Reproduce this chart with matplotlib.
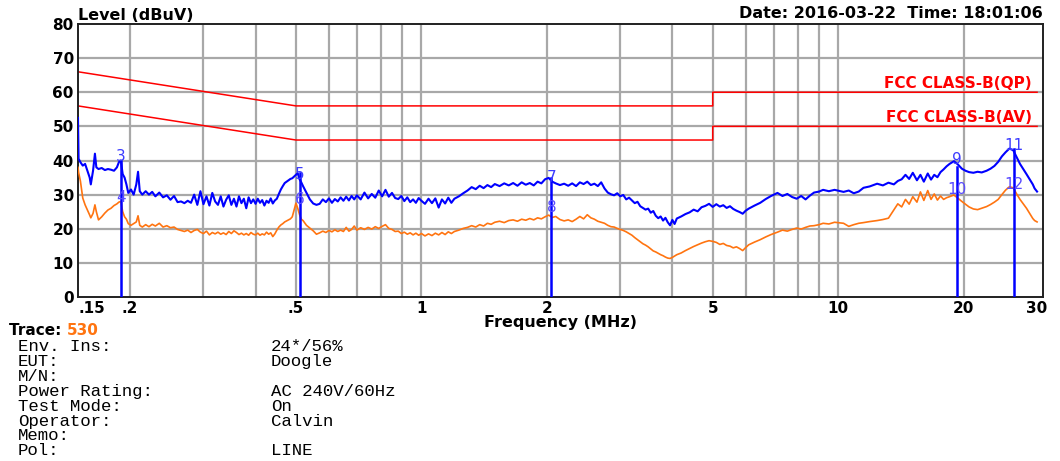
import matplotlib
matplotlib.use('Agg')
import matplotlib.pyplot as plt

# Conducted emission scan (MHz / dBuV)
freq = [0.150, 0.1505, 0.152, 0.154, 0.156, 0.158, 0.160, 0.161, 0.163, 0.1647,
        0.166, 0.168, 0.171, 0.174, 0.177, 0.180, 0.183, 0.186, 0.188, 0.190,
        0.192, 0.194, 0.196, 0.198, 0.201, 0.204, 0.207, 0.209, 0.211, 0.214,
        0.218, 0.222, 0.226, 0.230, 0.235, 0.240, 0.245, 0.250, 0.255, 0.260,
        0.265, 0.270, 0.275, 0.280, 0.285, 0.290, 0.295, 0.300, 0.305, 0.310,
        0.315, 0.320, 0.325, 0.330, 0.335, 0.340, 0.345, 0.350, 0.355, 0.360,
        0.365, 0.370, 0.375, 0.380, 0.385, 0.390, 0.395, 0.400, 0.405, 0.410,
        0.415, 0.420, 0.425, 0.430, 0.435, 0.440, 0.445, 0.450, 0.455, 0.460,
        0.465, 0.470, 0.475, 0.480, 0.485, 0.490, 0.495, 0.500, 0.505, 0.510,
        0.515, 0.520, 0.530, 0.540, 0.550, 0.560, 0.570, 0.580, 0.590, 0.600,
        0.610, 0.620, 0.630, 0.640, 0.650, 0.660, 0.670, 0.680, 0.690, 0.700,
        0.715, 0.730, 0.745, 0.760, 0.775, 0.790, 0.805, 0.820, 0.835, 0.850,
        0.865, 0.880, 0.895, 0.910, 0.925, 0.940, 0.955, 0.970, 0.985, 1.000,
        1.02, 1.04, 1.06, 1.08, 1.10, 1.12, 1.14, 1.16, 1.18, 1.20,
        1.23, 1.26, 1.29, 1.32, 1.35, 1.38, 1.41, 1.44, 1.47, 1.50,
        1.54, 1.58, 1.62, 1.66, 1.70, 1.74, 1.78, 1.82, 1.86, 1.90,
        1.94, 1.98, 2.02, 2.06, 2.10, 2.15, 2.20, 2.25, 2.30, 2.35,
        2.40, 2.45, 2.50, 2.55, 2.60, 2.65, 2.70, 2.75, 2.80, 2.85,
        2.90, 2.95, 3.00, 3.05, 3.10, 3.15, 3.20, 3.25, 3.30, 3.35,
        3.40, 3.45, 3.50, 3.55, 3.60, 3.65, 3.70, 3.75, 3.80, 3.85,
        3.90, 3.95, 4.00, 4.05, 4.10, 4.20, 4.30, 4.40, 4.50, 4.60,
        4.70, 4.80, 4.90, 5.00, 5.10, 5.20, 5.30, 5.40, 5.50, 5.60,
        5.70, 5.80, 5.90, 6.00, 6.10, 6.30, 6.50, 6.70, 6.90, 7.15,
        7.35, 7.55, 7.75, 7.95, 8.15, 8.35, 8.55, 8.75, 9.00, 9.20,
        9.50, 9.80, 10.3, 10.6, 10.9, 11.2, 11.5, 11.9, 12.4, 12.8,
        13.2, 13.6, 13.9, 14.2, 14.5, 14.8, 15.1, 15.45, 15.75, 16.05,
        16.4, 16.7, 17.0, 17.3, 17.6, 17.9, 18.2, 18.5, 18.95, 19.35,
        19.8, 20.2, 20.6, 21.1, 21.6, 22.1, 22.7, 23.2, 23.7, 24.2,
        24.7, 25.2, 25.75, 26.3, 26.8, 27.3, 27.8, 28.3, 28.8, 29.3,
        29.6, 30.0]

qp_level = [52.5, 40.5, 39.5, 38.5, 39.0, 37.0, 35.0, 33.0, 37.0, 42.0,
            38.0, 37.5, 37.8, 37.2, 37.5, 37.3, 37.0, 38.0, 39.5, 40.0,
            36.0, 35.0, 33.0, 30.5, 31.5, 30.0, 33.0, 36.7, 31.0, 30.0,
            31.0, 30.0, 30.8, 29.5, 30.6, 29.2, 29.8, 28.5, 29.6, 27.8,
            28.0, 27.5, 28.2, 27.6, 30.0, 27.0, 31.0, 27.2, 29.5, 26.8,
            30.5, 28.0, 27.0, 29.5, 26.5, 28.5, 29.8, 27.0, 28.8, 26.5,
            29.5, 27.5, 28.8, 26.0, 29.2, 27.5, 28.6, 27.3, 28.8, 27.6,
            28.4, 26.8, 28.2, 27.6, 28.9, 27.4, 28.3, 28.8, 30.2, 31.5,
            32.5, 33.4, 33.8, 34.2, 34.6, 34.8, 35.3, 35.8, 36.3, 34.5,
            33.6, 32.5, 30.5, 28.6, 27.4, 27.0, 27.3, 28.6, 27.8, 28.9,
            27.6, 28.7, 28.0, 29.2, 28.2, 29.4, 28.3, 29.6, 28.6, 29.8,
            28.6, 30.6, 28.9, 30.2, 29.1, 31.2, 29.5, 31.4, 29.4, 30.5,
            29.0, 28.7, 29.6, 28.1, 29.2, 27.8, 28.6, 27.6, 29.0, 28.2,
            27.3, 28.8, 27.5, 28.9, 26.2, 28.6, 27.4, 29.1, 27.6, 28.8,
            29.5, 30.4, 31.2, 32.2, 31.6, 32.6, 31.9, 32.8, 32.2, 33.1,
            32.5, 33.3, 32.7, 33.4, 32.6, 33.6, 32.9, 33.4, 32.7, 33.8,
            33.3, 34.5, 34.9, 33.8, 33.3, 32.8, 33.2, 32.6, 33.3, 32.5,
            33.6, 33.1, 33.8, 32.8, 33.2, 32.5, 33.6, 31.8, 30.6, 30.1,
            29.8, 30.4, 29.5, 29.9, 28.6, 29.1, 28.3, 27.5, 27.9, 26.6,
            26.1, 25.6, 25.9, 24.7, 25.2, 23.8, 23.1, 23.6, 22.4, 23.2,
            21.9, 21.0, 22.6, 21.4, 23.0, 23.6, 24.3, 24.8, 25.6, 25.1,
            26.3, 26.7, 27.3, 26.4, 27.2, 26.5, 26.9, 26.1, 26.6, 25.8,
            25.3, 24.9, 24.4, 25.3, 25.9, 26.8, 27.6, 28.7, 29.6, 30.5,
            29.6, 30.2, 29.3, 28.8, 29.6, 28.6, 29.7, 30.6, 30.9, 31.4,
            31.0, 31.4, 30.8, 31.2, 30.4, 30.9, 32.0, 32.4, 33.2, 32.7,
            33.5, 33.0, 34.0, 34.5, 35.8, 34.6, 36.4, 34.2, 35.8, 33.8,
            36.2, 34.4, 35.8, 35.1, 36.6, 37.4, 38.3, 39.0, 39.8, 38.9,
            37.6, 37.0, 36.6, 36.4, 36.7, 36.5, 37.0, 37.6, 38.4, 39.6,
            41.2, 42.4, 43.5, 43.0, 41.0, 39.0, 37.5, 36.0, 34.5, 33.0,
            31.8, 30.9]

av_level = [38.0, 36.5, 34.0, 29.0, 27.0, 25.5, 24.0, 23.2, 24.5, 27.0,
            25.0, 22.6, 23.5, 24.6, 25.5, 26.0, 26.8, 27.3, 27.8, 28.0,
            25.0, 23.5, 22.8, 21.5, 21.0, 21.5, 22.0, 23.8, 21.0, 20.5,
            21.2, 20.6, 21.3, 20.8, 21.6, 20.5, 20.9, 20.3, 20.5, 19.8,
            19.5, 19.2, 19.6, 18.9, 19.5, 19.8, 19.0, 18.6, 19.3, 18.2,
            18.9, 18.5, 19.0, 18.4, 18.8, 18.3, 19.2, 18.6, 19.4, 18.9,
            18.3, 18.7, 18.2, 18.6, 18.1, 18.9, 18.4, 18.2, 18.7, 18.1,
            18.5, 18.2, 19.0, 18.4, 18.8, 17.7, 18.5, 19.6, 20.5, 21.1,
            21.5, 22.0, 22.3, 22.6, 22.9, 23.5, 25.5, 27.5, 26.0, 24.2,
            22.8, 22.4, 21.0, 20.2, 19.4, 18.4, 18.8, 19.3, 18.9, 19.5,
            19.1, 19.7, 19.2, 19.6, 19.2, 20.4, 19.3, 19.8, 20.8, 19.6,
            20.3, 19.8, 20.4, 19.9, 20.6, 20.1, 20.7, 21.2, 20.1, 19.8,
            19.2, 19.3, 18.6, 19.0, 18.4, 18.8, 18.2, 18.7, 18.1, 18.6,
            17.9, 18.5, 18.0, 18.7, 18.2, 18.9, 18.3, 19.1, 18.6, 19.2,
            19.6, 20.1, 20.4, 20.9, 20.5, 21.2, 20.8, 21.6, 21.3, 21.9,
            22.2, 21.8, 22.4, 22.6, 22.2, 22.8, 22.5, 23.0, 22.6, 23.2,
            22.9, 23.5, 24.0, 23.3, 23.6, 22.7, 22.3, 22.6, 22.1, 22.8,
            23.6, 22.9, 24.1, 23.2, 22.8, 22.2, 21.9, 21.6, 21.0, 20.6,
            20.5, 20.1, 19.8, 19.5, 19.1, 18.6, 18.1, 17.4, 16.8, 16.2,
            15.6, 15.2, 14.7, 14.1, 13.5, 13.2, 12.8, 12.4, 12.1, 11.7,
            11.4, 11.3, 11.6, 12.0, 12.4, 12.9, 13.6, 14.2, 14.8, 15.3,
            15.8, 16.2, 16.5, 16.3, 16.0, 15.4, 15.7, 15.1, 14.9, 14.4,
            14.7, 14.2, 13.6, 14.5, 15.3, 16.1, 16.8, 17.6, 18.3, 19.0,
            19.6, 19.3, 19.8, 20.2, 19.9, 20.4, 20.8, 20.9, 21.2, 21.6,
            21.4, 21.9, 21.6, 20.7, 21.2, 21.6, 21.8, 22.1, 22.4, 22.7,
            23.1, 25.5, 27.3, 26.4, 28.6, 27.2, 29.4, 27.8, 30.8, 28.3,
            31.2, 28.6, 30.2, 28.4, 29.6, 28.6, 29.1, 29.4, 29.9, 29.0,
            28.0, 27.2, 26.4, 25.8, 25.6, 26.0, 26.5, 27.1, 27.8, 28.6,
            30.0, 31.3, 32.3, 32.0, 30.2, 28.6, 27.3, 26.0, 24.5, 23.0,
            22.4, 22.0]

# FCC Class B limit lines
limit_freq = [0.15, 0.5, 5.0, 5.0, 30.0]
qp_limit = [66, 56, 56, 60, 60]
av_limit = [56, 46, 46, 50, 50]

# Markers: frequency, QP value, label heights (peak / average)
marker_freq = [0.19, 0.51, 2.05, 19.3, 26.4]
marker_top = [40.0, 36.3, 34.9, 38.0, 43.5]
marker_qp_label = ['3', '5', '7', '9', '11']
marker_av_label = ['4', '6', '8', '10', '12']
qp_label_y = [41.1, 35.8, 34.9, 40.2, 44.3]
av_label_y = [29.3, 28.7, 26.1, 31.4, 33.1]

xtick_vals = [0.15, 0.2, 0.5, 1, 2, 5, 10, 20, 30]
xtick_text = ['.15', '.2', '.5', '1', '2', '5', '10', '20', '30']
grid_freqs = [0.2, 0.3, 0.4, 0.5, 0.6, 0.7, 0.8, 0.9, 1, 2, 3, 4, 5, 6, 7, 8, 9, 10, 20]

info_keys = ['Env. Ins:', 'EUT:', 'M/N:', 'Power Rating:', 'Test Mode:',
             'Operator:', 'Memo:', 'Pol:']
info_vals = ['24*/56%', 'Doogle', '', 'AC 240V/60Hz', 'On', 'Calvin', '', 'LINE']

W, H = 1060, 461
fig = plt.figure(figsize=(W / 100, H / 100), dpi=100)
ax = fig.add_axes([78 / W, 1 - 297 / H, (1043 - 78) / W, (297 - 24) / H])

ax.set_xscale('log')
ax.set_xlim(0.15, 31)
ax.set_ylim(0, 80)

grid_col = '#a8a8a8'
for g in grid_freqs:
    ax.axvline(g, color=grid_col, lw=1.6, zorder=0)
for yv in range(10, 80, 10):
    ax.axhline(yv, color=grid_col, lw=1.6, zorder=0)

# limits
ax.plot(limit_freq, qp_limit, color='#ff0000', lw=1.1, zorder=2)
ax.plot(limit_freq, av_limit, color='#ff0000', lw=1.1, zorder=2)
ax.text(29.1, 62.6, 'FCC CLASS-B(QP)', color='#ff0000', fontsize=11,
        fontweight='bold', ha='right', va='center')
ax.text(29.1, 52.6, 'FCC CLASS-B(AV)', color='#ff0000', fontsize=11,
        fontweight='bold', ha='right', va='center')

# traces
ax.plot(freq, av_level, color='#ff7410', lw=1.2, zorder=3)
ax.plot(freq, qp_level, color='#0000ff', lw=1.5, zorder=4)

# marker lines and numbers
for f, top in zip(marker_freq, marker_top):
    ax.plot([f, f], [0, top], color='#0000ff', lw=1.8, zorder=5)
for f, lab, yv in zip(marker_freq, marker_qp_label, qp_label_y):
    ax.text(f, yv, lab, color='#3c3cff', fontsize=11, ha='center', va='center', zorder=6)
for f, lab, yv in zip(marker_freq, marker_av_label, av_label_y):
    ax.text(f, yv, lab, color='#5a4cff', fontsize=11, ha='center', va='center', zorder=6)

# axes styling
for s in ax.spines.values():
    s.set_color('#202020')
    s.set_linewidth(1.4)
ax.minorticks_off()
ax.tick_params(length=0, labelsize=11, pad=3)
ax.set_xticks(xtick_vals)
ax.set_xticklabels(xtick_text, fontweight='bold')
ax.get_xticklabels()[0].set_horizontalalignment('left')
ax.set_yticks(range(0, 90, 10))
ax.set_yticklabels([str(v) for v in range(0, 90, 10)], fontweight='bold')

# header and footer texts
fig.text(78 / W, 1 - 15 / H, 'Level (dBuV)', fontsize=11.5, fontweight='bold',
         ha='left', va='center')
fig.text(1043 / W, 1 - 14 / H, 'Date: 2016-03-22  Time: 18:01:06', fontsize=11.5,
         fontweight='bold', ha='right', va='center')
fig.text(561 / W, 1 - 322 / H, 'Frequency (MHz)', fontsize=11.5, fontweight='bold',
         ha='center', va='center')

t = fig.text(9 / W, 1 - 330 / H, 'Trace: ', fontsize=11, fontweight='bold',
             ha='left', va='center')
fig.canvas.draw()
bb = t.get_window_extent()
fig.text(bb.x1 / W, 1 - 330 / H, '530', fontsize=11, fontweight='bold',
         color='#ff7410', ha='left', va='center')

for i, (k, v) in enumerate(zip(info_keys, info_vals)):
    yy = 1 - (346.5 + i * 14.9) / H
    fig.text(18 / W, yy, k, family='Liberation Mono', fontsize=12.5,
             ha='left', va='center')
    fig.text(271 / W, yy, v, family='Liberation Mono', fontsize=12.5,
             ha='left', va='center')

fig.savefig('out.png', dpi=100)
